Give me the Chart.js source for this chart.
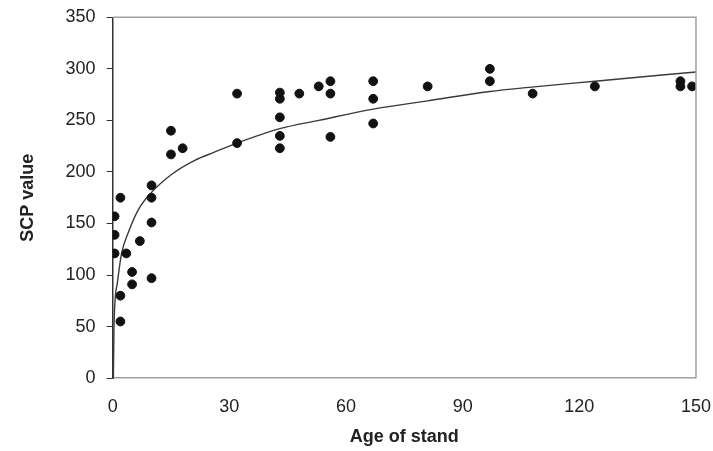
<!DOCTYPE html>
<html>
<head>
<meta charset="utf-8">
<script src="https://cdn.jsdelivr.net/npm/chart.js@4/dist/chart.umd.min.js"></script>
<style>
  body { margin: 0; background: #fff; }
  #wrap { width: 713px; height: 451px; }
</style>
</head>
<body>
<div id="wrap"><canvas id="scpChart"></canvas></div>
<script>
// stand age (years) and SCP value for each sampled stand
const standAge = [0.5, 0.5, 0.5, 2, 2, 2, 3.5, 5, 5, 7, 10, 10, 10, 10, 15, 15, 18,
  32, 32, 43, 43, 43, 43, 43, 48, 53, 56, 56, 56, 67, 67, 67, 81, 97, 97, 108, 124, 146, 146, 149];
const scpValue = [157, 139, 121, 175, 80, 55, 121, 103, 91, 133, 187, 175, 151, 97, 240, 217, 223,
  276, 228, 277, 271, 253, 235, 223, 276, 283, 288, 276, 234, 288, 271, 247, 283, 300, 288, 276, 283, 288, 283, 283];

// logarithmic trend line
const trendAge = [0.2, 0.35, 1.2, 2.3, 4.2, 6.7, 9.7, 15.3, 21, 26, 32, 43, 53, 67, 81, 97, 107, 124, 150];
const trendValue = [0, 50, 92, 121, 143, 164, 179, 198, 211, 219, 228, 242, 250, 261, 269, 278, 282, 288, 297];

const xTicks = [0, 30, 60, 90, 120, 150];
const yTicks = [0, 50, 100, 150, 200, 250, 300, 350];

const frame = {
  id: "frame",
  afterDraw(chart){
    const a = chart.chartArea, c = chart.ctx;
    c.save();
    c.strokeStyle = "#a0a0a0";
    c.lineWidth = 1.5;
    c.beginPath();
    c.moveTo(a.left, a.top);
    c.lineTo(a.right, a.top);
    c.lineTo(a.right, a.bottom);
    c.stroke();
    c.restore();
  }
};

const ctx = document.getElementById("scpChart");

new Chart(ctx, {
  type: "scatter",
  data: {
    datasets: [
      {
        label: "SCP",
        data: standAge.map((x, i) => ({ x: x, y: scpValue[i] })),
        backgroundColor: "#111",
        borderColor: "#111",
        pointRadius: 4.4,
        order: 0
      },
      {
        label: "Trend",
        data: trendAge.map((x, i) => ({ x: x, y: trendValue[i] })),
        showLine: true,
        borderColor: "#3a3a3a",
        borderWidth: 1.4,
        pointRadius: 0,
        cubicInterpolationMode: "monotone",
        order: 1
      }
    ]
  },
  plugins: [frame],
  options: {
    responsive: true,
    maintainAspectRatio: false,
    animation: false,
    layout: { padding: { top: 16, left: 4, right: 0, bottom: 0 } },
    plugins: { legend: { display: false }, tooltip: { enabled: false } },
    scales: {
      x: {
        type: "linear",
        min: 0,
        max: 150,
        afterBuildTicks(axis){ axis.ticks = xTicks.map(v => ({ value: v })); },
        grid: { display: true, drawOnChartArea: false, drawTicks: true, tickLength: 16, color: "rgba(0,0,0,0)" },
        border: { display: true, color: "#a0a0a0", width: 1.5 },
        ticks: { padding: 2, color: "#222", font: { family: "'Liberation Sans', Arial", size: 18 } },
        title: {
          display: true,
          text: "Age of stand",
          color: "#222",
          padding: { top: 6.6, bottom: 3 },
          font: { family: "'Liberation Sans', Arial", size: 18, weight: "bold" }
        }
      },
      y: {
        min: 0,
        max: 350,
        afterBuildTicks(axis){ axis.ticks = yTicks.map(v => ({ value: v })); },
        grid: { drawOnChartArea: false, drawTicks: true, tickLength: 6, color: "#333" },
        border: { display: true, color: "#333", width: 1.5 },
        ticks: { padding: 11, color: "#222", font: { family: "'Liberation Sans', Arial", size: 18, lineHeight: 0.7 } },
        title: {
          display: true,
          text: "SCP value",
          color: "#222",
          padding: { top: 13, bottom: 16 },
          font: { family: "'Liberation Sans', Arial", size: 18, weight: "bold" }
        }
      }
    }
  }
});
</script>
</body>
</html>
